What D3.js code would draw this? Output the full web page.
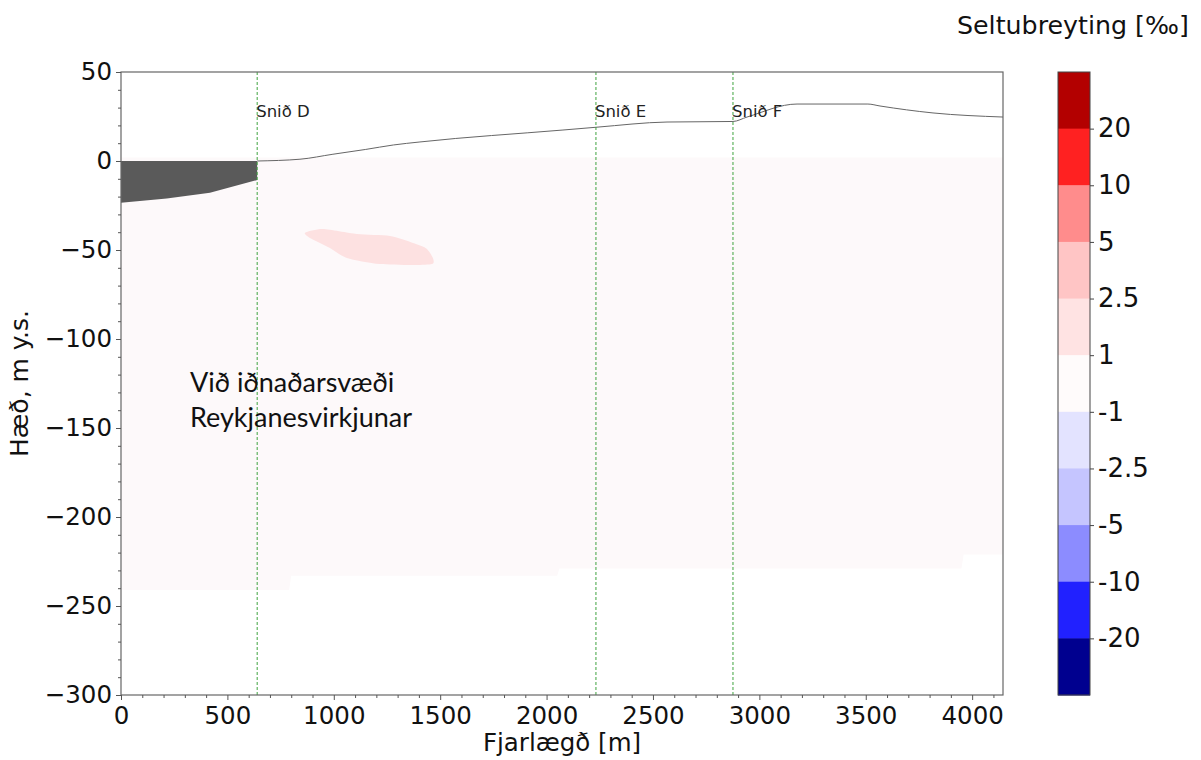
<!DOCTYPE html>
<html><head><meta charset="utf-8">
<script src="https://cdn.jsdelivr.net/npm/d3@7"></script>
<style>
body{margin:0;background:#fff;}
svg{display:block;font-family:"DejaVu Sans",sans-serif;}
</style></head>
<body><svg id="chart" width="1201" height="760"></svg>
<script>
// ---------- data ----------
const xDomain = [0, 4145];
const yDomain = [-300, 50];
const xTicks = [0, 500, 1000, 1500, 2000, 2500, 3000, 3500, 4000];
const yTicks = [-300, -250, -200, -150, -100, -50, 0, 50];

// terrain surface line (m)
const terrainX = [640, 841, 996, 1150, 1280, 1405, 2077, 2237, 2566, 2876, 2942, 3177, 3510, 3567, 3816, 4145];
const terrainY = [0, 1, 3.8, 6.5, 9.0, 10.7, 17.4, 19, 21.9, 22.2, 24.7, 32, 32, 30.9, 27, 24.7];

// sea (dark) area bottom, top is 0
const seaX = [0, 215, 418, 640];
const seaY = [-23.4, -21, -17.8, -10.7];

// faint model domain (-1..1 level) bottom boundary
const domainX = [0, 790, 800, 2050, 2060, 3950, 3960, 4145];
const domainY = [-241, -241, -233, -233, -229, -229, -221, -221];
const domainTop = 2;

// salinity-change anomaly (1..2.5 level)
const blobX = [865, 949, 1109, 1264, 1372, 1438, 1461, 1217, 1062, 982, 888];
const blobY = [-40.3, -38.2, -41, -42.1, -46, -49.4, -57.9, -57.9, -54.5, -48.9, -43.3];

// sections
const sectionNames = ["Snið D", "Snið E", "Snið F"];
const sectionX = [640, 2232, 2876];

// colorbar
const cbLabels = ["20", "10", "5", "2.5", "1", "-1", "-2.5", "-5", "-10", "-20"];
const cbColors = ["#b30000", "#ff2121", "#ff8c8c", "#ffc5c5", "#ffe3e3", "#fffbfb", "#e3e3ff", "#c5c5ff", "#8c8cff", "#2121ff", "#00008f"];

// ---------- drawing ----------
const svg = d3.select("#chart");
const L = 121, R = 1003, T = 72, B = 695;
const x = d3.scaleLinear().domain(xDomain).range([L, R]);
const y = d3.scaleLinear().domain(yDomain).range([B, T]);
const line = d3.line().x(d => x(d[0])).y(d => y(d[1]));

// model domain faint fill
const dom = [[0, domainTop], [xDomain[1], domainTop]].concat(domainX.map((d, i) => [d, domainY[i]]).reverse());
svg.append("path").attr("d", line(dom) + "Z").attr("fill", "#fdf9fa");

// anomaly blob
svg.append("path")
  .attr("d", d3.line().curve(d3.curveCardinalClosed.tension(0.3)).x(d => x(d[0])).y(d => y(d[1]))(blobX.map((d, i) => [d, blobY[i]])))
  .attr("fill", "#fde1e1");

// sea dark area
const sea = [[0, 0], [seaX[seaX.length - 1], 0]].concat(seaX.map((d, i) => [d, seaY[i]]).reverse());
svg.append("path").attr("d", line(sea) + "Z").attr("fill", "#5a5a5a");

// terrain line
svg.append("path")
  .attr("d", d3.line().curve(d3.curveMonotoneX).x(d => x(d[0])).y(d => y(d[1]))(terrainX.map((d, i) => [d, terrainY[i]])))
  .attr("fill", "none").attr("stroke", "#666").attr("stroke-width", 1);

// section lines
sectionX.forEach((sx, i) => {
  svg.append("line")
    .attr("x1", x(sx)).attr("x2", x(sx)).attr("y1", T).attr("y2", B)
    .attr("stroke", "#3fa33f").attr("stroke-width", 1).attr("stroke-dasharray", "3,2");
  svg.append("text")
    .attr("x", x(sx) - 1).attr("y", 117)
    .attr("font-size", 16.5).attr("fill", "#222")
    .text(sectionNames[i]);
});

// frame
svg.append("rect").attr("x", L).attr("y", T).attr("width", R - L).attr("height", B - T)
  .attr("fill", "none").attr("stroke", "#666").attr("stroke-width", 1.2);

// axes
const fmt = d3.format("");
svg.append("g").attr("transform", `translate(0,${B})`)
  .call(d3.axisBottom(x).tickValues(xTicks).tickSize(5).tickPadding(7).tickFormat(fmt));
const xMinor = d3.range(0, 4145, 100).filter(v => v % 500 !== 0);
svg.append("g").attr("transform", `translate(0,${B})`)
  .call(d3.axisBottom(x).tickValues(xMinor).tickSize(3).tickFormat(""));

svg.append("g").attr("transform", `translate(${L},0)`)
  .call(d3.axisLeft(y).tickValues(yTicks).tickSize(5).tickPadding(4).tickFormat(fmt));
const yMinor = d3.range(-300, 51, 10).filter(v => v % 50 !== 0);
svg.append("g").attr("transform", `translate(${L},0)`)
  .call(d3.axisLeft(y).tickValues(yMinor).tickSize(3).tickFormat(""));

svg.selectAll(".domain").remove();
svg.selectAll(".tick line").attr("stroke", "#555");
svg.selectAll(".tick text").attr("font-size", 24.5).attr("fill", "#111").attr("font-family", "DejaVu Sans");

// axis labels
svg.append("text").attr("x", (L + R) / 2).attr("y", 751).attr("text-anchor", "middle")
  .attr("font-size", 24.5).attr("fill", "#111").text("Fjarlægð [m]");
svg.append("text").attr("transform", `translate(28,${(T + B) / 2}) rotate(-90)`).attr("text-anchor", "middle")
  .attr("font-size", 25).attr("fill", "#111").text("Hæð, m y.s.");

// annotation
const ann = svg.append("text").attr("font-family", "Lato, 'Open Sans', sans-serif").attr("font-size", 27).attr("fill", "#111");
ann.append("tspan").attr("x", 190).attr("y", 392).text("Við iðnaðarsvæði");
ann.append("tspan").attr("x", 190).attr("y", 427).text("Reykjanesvirkjunar");

// colorbar
const cbL = 1058, cbW = 32;
const cy = d3.scaleLinear().domain([0, cbColors.length]).range([T, B]);
svg.append("g").selectAll("rect").data(cbColors).join("rect")
  .attr("x", cbL).attr("y", (d, i) => cy(i)).attr("width", cbW)
  .attr("height", (d, i) => cy(i + 1) - cy(i) + 0.5).attr("fill", d => d);
svg.append("rect").attr("x", cbL).attr("y", T).attr("width", cbW).attr("height", B - T)
  .attr("fill", "none").attr("stroke", "#444").attr("stroke-width", 1);
const cbAxis = d3.axisRight(d3.scalePoint().domain(cbLabels).range([cy(1), cy(cbLabels.length)]))
  .tickSize(4).tickPadding(4);
const gcb = svg.append("g").attr("transform", `translate(${cbL + cbW},0)`).call(cbAxis);
gcb.select(".domain").remove();
gcb.selectAll(".tick line").attr("stroke", "#444");
gcb.selectAll(".tick text").attr("font-size", 26).attr("fill", "#111").attr("font-family", "DejaVu Sans");

// colorbar title
svg.append("text").attr("x", 957).attr("y", 34).attr("font-size", 25.3).attr("fill", "#111")
  .text("Seltubreyting [‰]");
</script>
</body></html>
